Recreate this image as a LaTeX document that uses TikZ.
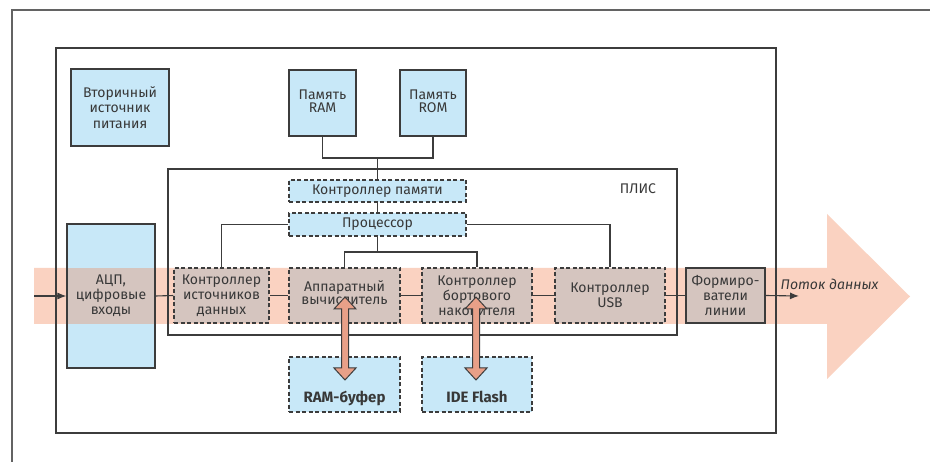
\documentclass[tikz,border=0pt]{standalone}
\usepackage{fontspec}
\setmainfont{Fira Sans}
\usetikzlibrary{calc,arrows.meta}
\definecolor{lc}{HTML}{3C3C3C}
\definecolor{txt}{HTML}{383838}
\definecolor{bl}{HTML}{C8E8F8}
\definecolor{brn}{HTML}{D5C5BF}
\definecolor{peach}{HTML}{FAD2C1}
\definecolor{salmon}{HTML}{E8A088}
\begin{document}
\begin{tikzpicture}[x=1pt,y=-1pt,
  box/.style={draw=lc, line width=1.2pt, fill=bl, align=center, inner sep=0pt,
    text=txt, font=\fontsize{14}{15.2}\selectfont},
  dbox/.style={box, dash pattern=on 4pt off 2.5pt},
  inband/.style={fill=brn},
  frame/.style={draw=lc, line width=1.3pt},
  wire/.style={draw=lc, line width=1.1pt},
  flow/.style={wire, -{Latex[length=9pt,width=7pt]}},
  fatarrow/.style={fill=salmon, draw=lc, line width=1pt, line join=miter},
  lbl/.style={text=txt, font=\fontsize{14}{15.2}\selectfont, inner sep=0pt}
]
\useasboundingbox (0,0) rectangle (930,462);
\fill[white] (0,0) rectangle (930,462);
% data flow band
\fill[peach] (34,268) -- (827,268) -- (827,214) -- (910,296.5) -- (827,379) -- (827,324) -- (34,324) -- cycle;
\node[lbl, font=\fontsize{14}{15.2}\selectfont\itshape] (flowlbl) at (829.5,284) {Поток данных};
% page border (top and left)
\draw[draw=lc!80, line width=1.3pt] (12,462) -- (12,10) -- (930,10);
% main block
\node[frame, minimum width=720pt, minimum height=385pt, inner sep=0pt] (main) at (416,240.5) {};
% FPGA
\node[frame, line width=1.1pt, minimum width=509pt, minimum height=166pt, inner sep=0pt] (pls) at (422.5,252) {};
\node[lbl] (plslbl) at (638,189) {ПЛИС};
% top blocks
\node[box, minimum width=98pt, minimum height=77pt] (vtor) at (120,107.5) {Вторичный\\источник\\питания};
\node[box, minimum width=67pt, minimum height=66pt] (ram) at (322.5,103) {\raisebox{3pt}{\shortstack{Память\\RAM}}};
\node[box, minimum width=66pt, minimum height=66pt] (rom) at (433,103) {\raisebox{3pt}{\shortstack{Память\\ROM}}};
\node[dbox, minimum width=177pt, minimum height=22pt] (memctl) at (377.5,191) {Контроллер памяти};
\node[dbox, minimum width=177pt, minimum height=23pt] (cpu) at (377.5,224.5) {Процессор};
% row
\node[box, minimum width=88pt, minimum height=144pt] (adc) at (111,296) {};
\fill[brn] ($(adc.west)+(0.6,-28)$) rectangle ($(adc.east)+(-0.6,28)$);
\node[box, fill=none, minimum width=88pt, minimum height=144pt] (adctxt) at (111,296) {АЦП,\\цифровые\\входы};
\node[dbox, inband, minimum width=95pt, minimum height=55pt] (src) at (221.5,295.5) {Контроллер\\источников\\данных};
\node[dbox, inband, minimum width=111pt, minimum height=55pt] (hw) at (344.5,295.5) {\raisebox{6pt}{\shortstack{Аппаратный\\вычислитель}}};
\node[dbox, inband, minimum width=110pt, minimum height=55pt] (stor) at (477,295.5) {Контроллер\\бортового\\накопителя};
\node[dbox, inband, minimum width=110pt, minimum height=55pt] (usb) at (610,295.5) {Контроллер\\USB};
\node[box, inband, minimum width=79pt, minimum height=55pt] (form) at (725.5,295.5) {Формиро-\\ватели\\линии};
% bottom
\node[dbox, minimum width=111pt, minimum height=55pt] (rambuf) at (344.5,384.5) {\raisebox{-18pt}[0pt][0pt]{\fontsize{15}{16}\selectfont\bfseries RAM-буфер}};
\node[dbox, minimum width=110pt, minimum height=55pt] (ide) at (477,384.5) {\raisebox{-18pt}[0pt][0pt]{\fontsize{15}{16}\selectfont\bfseries IDE Flash}};
% memory bus
\coordinate (mj) at (377.5,158);
\draw[wire] (ram.south) |- (mj) -| (rom.south);
\draw[wire] (mj) -- (memctl.north);
\draw[wire] (memctl.south) -- (cpu.north);
\draw[wire] (cpu.west) -| (src.north);
\draw[wire] (cpu.east) -| (usb.north);
\coordinate (cj) at (377.5,252);
\draw[wire] (cpu.south) -- (cj);
\draw[wire] (hw.north) |- (cj) -| (stor.north);
% data path
\coordinate (in) at (34,296);
\coordinate (out) at (799,296);
\draw[flow] (in) -- (adc.west);
\draw[wire] (adc.east) -- (src.west);
\draw[wire] (src.east) -- (hw.west);
\draw[wire] (hw.east) -- (stor.west);
\draw[wire] (stor.east) -- (usb.west);
\draw[wire] (usb.east) -- (form.west);
\draw[flow] (form.east) -- (out);
% bidirectional fat arrows
\draw[fatarrow] ($(hw.center)+(0.5,1.5)$) -- ++(11,12) -- ++(-7.5,0) -- ++(0,59) -- ++(7.5,0) -- ++(-11,12) -- ++(-11,-12) -- ++(7.5,0) -- ++(0,-59) -- ++(-7.5,0) -- cycle;
\draw[fatarrow] ($(stor.center)+(-1,1.5)$) -- ++(11,12) -- ++(-7.5,0) -- ++(0,59) -- ++(7.5,0) -- ++(-11,12) -- ++(-11,-12) -- ++(7.5,0) -- ++(0,-59) -- ++(-7.5,0) -- cycle;
\end{tikzpicture}
\end{document}
